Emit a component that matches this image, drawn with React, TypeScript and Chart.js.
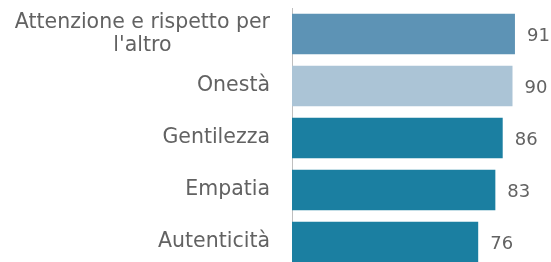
import React, { useEffect, useRef } from "react";
import { Chart, registerables } from "chart.js";

Chart.register(...registerables);

const categories: string[][] = [
  ["Attenzione e rispetto per", "l'altro"],
  ["Onestà"],
  ["Gentilezza"],
  ["Empatia"],
  ["Autenticità"],
];
const values: number[] = [91, 90, 86, 83, 76];
const barColors: string[] = ["#5d93b5", "#abc4d6", "#1b7fa1", "#1b7fa1", "#1b7fa1"];

const FONT = "DejaVu Sans";
const TEXT = "#626262";

const labelPlugin = {
  id: "customLabels",
  afterDatasetsDraw(chart: any) {
    const ctx = chart.ctx;
    const y = chart.scales.y;
    const meta = chart.getDatasetMeta(0);
    ctx.save();
    ctx.fillStyle = TEXT;
    ctx.font = `20.5px "${FONT}"`;
    ctx.textBaseline = "middle";
    const rightEdge = chart.chartArea.left - 22;
    const lineH = 23;
    categories.forEach((lines, i) => {
      const cy = y.getPixelForValue(i);
      const widths = lines.map((l) => ctx.measureText(l).width);
      const maxW = Math.max(...widths);
      const cx = rightEdge - maxW / 2;
      ctx.textAlign = "center";
      lines.forEach((l, j) => {
        const ly = cy + (j - (lines.length - 1) / 2) * lineH;
        ctx.fillText(l, cx, ly);
      });
    });
    ctx.font = `18px "${FONT}"`;
    ctx.textAlign = "left";
    meta.data.forEach((bar: any, i: number) => {
      ctx.fillText(String(values[i]), bar.x + 12, bar.y + 2);
    });
    ctx.restore();
  },
};

export default function App() {
  const ref = useRef<HTMLCanvasElement>(null);
  useEffect(() => {
    if (!ref.current) return;
    const chart = new Chart(ref.current, {
      type: "bar",
      data: {
        labels: categories.map((c) => c.join(" ")),
        datasets: [
          {
            data: values,
            backgroundColor: barColors,
            borderWidth: 0,
            barPercentage: 1,
            categoryPercentage: 0.775,
          },
        ],
      },
      options: {
        indexAxis: "y",
        animation: false,
        responsive: true,
        maintainAspectRatio: false,
        layout: { padding: { left: 292, right: 14, top: 8, bottom: 1 } },
        plugins: { legend: { display: false }, tooltip: { enabled: false } },
        scales: {
          x: { display: false, min: 0, max: 100 },
          y: {
            grid: { display: false, drawTicks: false },
            ticks: { display: false },
            border: { display: true, color: "#bfbfbf", width: 1 },
            afterFit: (s: any) => {
              s.width = 0;
            },
          },
        },
      },
      plugins: [labelPlugin],
    });
    return () => chart.destroy();
  }, []);
  return (
    <div style={{ position: "fixed", left: 0, top: 0, width: 551, height: 269, background: "#fff" }}>
      <canvas ref={ref} />
    </div>
  );
}
